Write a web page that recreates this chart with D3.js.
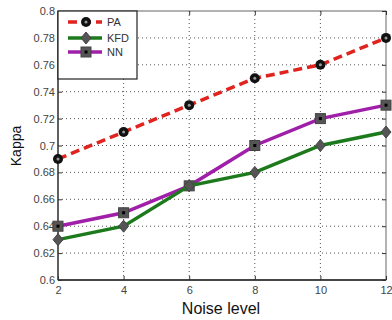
<!DOCTYPE html>
<html><head><meta charset="utf-8">
<script src="https://cdn.jsdelivr.net/npm/d3@7/dist/d3.min.js"></script>
<style>body{margin:0;background:#fff}svg{display:block}text{font-family:Arial,"Liberation Sans",sans-serif}</style>
</head><body><svg id="c" width="392" height="320"></svg>
<script>
const noise = [2, 4, 6, 8, 10, 12];
const pa = [0.69, 0.71, 0.73, 0.75, 0.76, 0.78];
const kfd = [0.63, 0.64, 0.67, 0.68, 0.70, 0.71];
const nn = [0.64, 0.65, 0.67, 0.70, 0.72, 0.73];
const yTicks = [0.6, 0.62, 0.64, 0.66, 0.68, 0.7, 0.72, 0.74, 0.76, 0.78, 0.8];
const xTicks = [2, 4, 6, 8, 10, 12];

const svg = d3.select("#c");
const L = 58, R = 386, T = 11, B = 280;
const x = d3.scaleLinear().domain([2, 12]).range([L, R]);
const y = d3.scaleLinear().domain([0.6, 0.8]).range([B, T]);

// grid
const g = svg.append("g");
g.selectAll(".gx").data(xTicks.slice(1, -1)).enter().append("line")
  .attr("x1", d => x(d)).attr("x2", d => x(d)).attr("y1", T).attr("y2", B)
  .attr("stroke", "#555").attr("stroke-width", 1).attr("stroke-dasharray", "1,3");
g.selectAll(".gy").data(yTicks.slice(1, -1)).enter().append("line")
  .attr("x1", L).attr("x2", R).attr("y1", d => y(d)).attr("y2", d => y(d))
  .attr("stroke", "#555").attr("stroke-width", 1).attr("stroke-dasharray", "1,3");

// box
svg.append("rect").attr("x", L).attr("y", T).attr("width", R - L).attr("height", B - T)
  .attr("fill", "none").attr("stroke", "#666").attr("stroke-width", 1);
svg.append("line").attr("x1", L).attr("x2", L).attr("y1", T).attr("y2", B).attr("stroke", "#444").attr("stroke-width", 1.5);
svg.append("line").attr("x1", L).attr("x2", R).attr("y1", B).attr("y2", B).attr("stroke", "#222").attr("stroke-width", 1.5);

// axes
const ax = svg.append("g").attr("transform", `translate(0,${B})`)
  .call(d3.axisBottom(x).tickValues(xTicks).tickSize(-4).tickPadding(6).tickFormat(d3.format("d")));
const ay = svg.append("g").attr("transform", `translate(${L},0)`)
  .call(d3.axisLeft(y).tickValues(yTicks).tickSize(-4).tickPadding(3).tickFormat(d => d3.format("")(+d.toFixed(2))));
[ax, ay].forEach(a => {
  a.select(".domain").remove();
  a.selectAll(".tick line").attr("stroke", "#333");
  a.selectAll("text").attr("font-size", 11).attr("fill", "#444");
});
// right ticks
svg.append("g").attr("transform", `translate(${R},0)`)
  .call(d3.axisRight(y).tickValues(yTicks).tickSize(-4).tickFormat(""))
  .call(a => { a.select(".domain").remove(); a.selectAll("line").attr("stroke", "#333"); });
svg.append("g").attr("transform", `translate(0,${T})`)
  .call(d3.axisTop(x).tickValues(xTicks).tickSize(-4).tickFormat(""))
  .call(a => { a.select(".domain").remove(); a.selectAll("line").attr("stroke", "#333"); });

const line = d3.line().x((d, i) => x(noise[i])).y(d => y(d));

function drawMarker(sel, type) {
  if (type === "circle") {
    sel.append("circle").attr("r", 5).attr("fill", "#111");
    sel.append("circle").attr("r", 1.5).attr("fill", "#999");
  } else if (type === "diamond") {
    sel.append("path").attr("d", "M0,-6L5,0L0,6L-5,0Z").attr("fill", "#555").attr("stroke", "#444");
  } else {
    sel.append("rect").attr("x", -5).attr("y", -5).attr("width", 10).attr("height", 10).attr("fill", "#555").attr("stroke", "#444");
    sel.append("rect").attr("x", -1.5).attr("y", -1.5).attr("width", 3).attr("height", 3).attr("fill", "#000");
  }
}

const series = [
  { name: "NN", data: nn, color: "#a01fa8", dash: null, marker: "square" },
  { name: "KFD", data: kfd, color: "#1c7a1c", dash: null, marker: "diamond" },
  { name: "PA", data: pa, color: "#e0231f", dash: "9,5", marker: "circle" }
];
series.forEach(s => {
  svg.append("path").attr("d", line(s.data)).attr("fill", "none").attr("stroke", s.color)
    .attr("stroke-width", 3.5).attr("stroke-dasharray", s.dash);
  s.data.forEach((v, i) => {
    const m = svg.append("g").attr("transform", `translate(${x(noise[i])},${y(v)})`);
    drawMarker(m, s.marker);
  });
});

// legend
const lg = svg.append("g");
lg.append("rect").attr("x", L).attr("y", T).attr("width", 79).attr("height", 68)
  .attr("fill", "#fff").attr("stroke", "#222").attr("stroke-width", 1.2);
const legOrder = [series[2], series[1], series[0]];
const legY = [22, 38, 52];
legOrder.forEach((s, i) => {
  const yy = legY[i];
  lg.append("line").attr("x1", 68).attr("x2", 102).attr("y1", yy).attr("y2", yy)
    .attr("stroke", s.color).attr("stroke-width", 3.5).attr("stroke-dasharray", s.dash);
  const m = lg.append("g").attr("transform", `translate(86,${yy})`);
  drawMarker(m, s.marker);
  lg.append("text").attr("x", 107).attr("y", yy + 4).attr("font-size", 11).attr("fill", "#333").text(s.name);
});

// labels
svg.append("text").attr("x", 221).attr("y", 314).attr("text-anchor", "middle")
  .attr("font-size", 16).attr("fill", "#111").text("Noise level");
svg.append("text").attr("transform", "translate(21,146) rotate(-90)").attr("text-anchor", "middle")
  .attr("font-size", 14).attr("fill", "#111").text("Kappa");
</script></body></html>
